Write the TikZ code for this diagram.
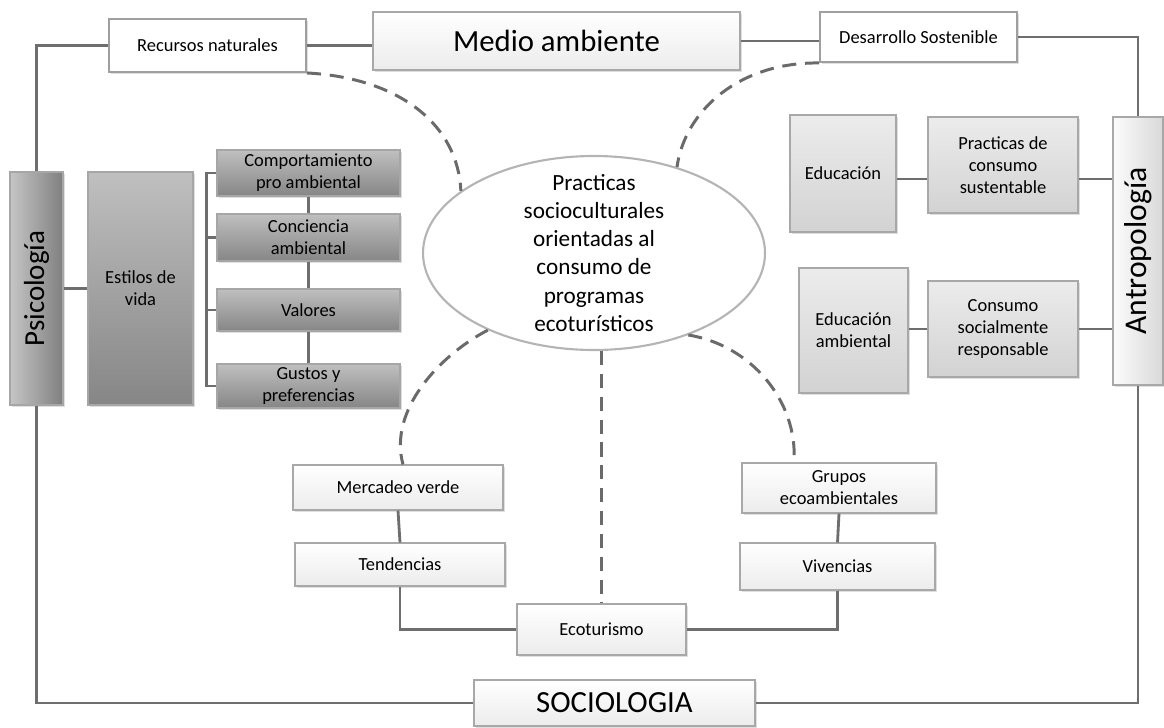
\documentclass[tikz,border=0pt]{standalone}
\usepackage{fontspec}
\setmainfont{Carlito}
\usepackage{xcolor}
\usepackage{tikz}
\usetikzlibrary{shapes.geometric,positioning,shadows}

\definecolor{linegray}{HTML}{6E6E6E}
\definecolor{dashgray}{HTML}{6A6A6A}
\definecolor{bordergray}{HTML}{A8A8A8}
\definecolor{ovalgray}{HTML}{B4B4B4}

\begin{document}
\begin{tikzpicture}[
    x=0.2mm, y=-0.2mm,
    box/.style={rectangle, draw=bordergray, line width=0.6pt, inner sep=0pt, align=center, font=\fontsize{10.5}{12.5}\selectfont, drop shadow={shadow xshift=0.9pt, shadow yshift=-0.9pt, opacity=0.25}},
    whitebox/.style={box, fill=white, draw=gray!75, line width=1.1pt},
    lightbox/.style={box, top color=white, bottom color=gray!15},
    greybox/.style={box, top color=gray!15, bottom color=gray!35},
    darkbox/.style={box, top color=gray!50, bottom color=gray!95, draw=gray!70},
    psicobox/.style={box, left color=gray!45, right color=gray!100, draw=gray!70, font=\fontsize{16.5}{19}\selectfont},
    antrobox/.style={box, left color=gray!3, right color=gray!30, font=\fontsize{18}{21}\selectfont},
    bigtext/.style={font=\fontsize{17.5}{20}\selectfont},
    frame/.style={draw=linegray, line width=1.6pt},
    link/.style={draw=linegray, line width=1.6pt},
    dashlink/.style={draw=dashgray, line width=1.7pt, dash pattern=on 8pt off 5pt}
]
\useasboundingbox (0,0) rectangle (1164,727);

\node[whitebox, minimum width=39.4mm, minimum height=10.6mm] (rec) at (207.5,45.5) {Recursos naturales};
\node[lightbox, bigtext, minimum width=73.4mm, minimum height=11.6mm] (medio) at (556.5,41) {Medio ambiente};
\node[whitebox, minimum width=39.4mm, minimum height=10mm] (desa) at (918.5,37) {Desarrollo Sostenible};

\node[psicobox, minimum width=10.6mm, minimum height=46.6mm] (psico) at (36.5,288.5) {\rotatebox{90}{Psicología}};
\node[darkbox, minimum width=21mm, minimum height=46.6mm] (estilos) at (140.5,288.5) {Estilos de\\vida};
\node[darkbox, minimum width=36.6mm, minimum height=9.2mm] (comp) at (308.5,173) {Comportamiento\\pro ambiental};
\node[darkbox, minimum width=36.6mm, minimum height=9.4mm] (conc) at (308.5,237.5) {Conciencia\\ambiental};
\node[darkbox, minimum width=36.6mm, minimum height=8.4mm] (valo) at (308.5,310) {Valores};
\node[darkbox, minimum width=36.6mm, minimum height=8.8mm] (gust) at (308.5,386) {Gustos y\\preferencias};

\node[ellipse, draw=ovalgray, line width=1.2pt, fill=white, inner sep=0pt,
      minimum width=68.4mm, minimum height=38.8mm,
      label={[align=center, font=\fontsize{13.2}{16}\selectfont]center:Practicas\\socioculturales\\orientadas al\\consumo de\\programas\\ecoturísticos}] (pr) at (594,253) {};

\node[greybox, minimum width=21.2mm, minimum height=23.4mm] (edu) at (843,173.5) {Educación};
\node[greybox, minimum width=30mm, minimum height=19.2mm] (prac) at (1003,165) {Practicas de\\consumo\\sustentable};
\node[greybox, minimum width=21.8mm, minimum height=25mm] (eduamb) at (853.5,330.5) {Educación\\ambiental};
\node[greybox, minimum width=30mm, minimum height=19.2mm] (cons) at (1003,329) {Consumo\\socialmente\\responsable};
\node[antrobox, minimum width=10mm, minimum height=53.6mm] (antro) at (1138,251) {\rotatebox{90}{Antropología}};

\node[lightbox, minimum width=42mm, minimum height=9mm] (merc) at (398,487.5) {Mercadeo verde};
\node[lightbox, minimum width=42mm, minimum height=8.6mm] (tend) at (400,564.5) {Tendencias};
\node[lightbox, minimum width=33.8mm, minimum height=10.2mm] (eco) at (601.5,629.5) {Ecoturismo};
\node[lightbox, minimum width=38.8mm, minimum height=10mm] (grup) at (839,488) {Grupos\\ecoambientales};
\node[lightbox, minimum width=39mm, minimum height=9.4mm] (vive) at (837.5,566.5) {Vivencias};
\node[lightbox, bigtext, minimum width=56.2mm, minimum height=9.2mm] (socio) at (614.5,703) {SOCIOLOGIA};

\draw[frame] (psico.north) |- (rec.west);
\draw[frame] (rec.east) -- (rec.east -| medio.west);
\draw[frame] (medio.east) -- (medio.east -| desa.west);
\draw[frame] (desa.east) -| (antro.north);
\draw[frame] (antro.south) |- (socio.east);
\draw[frame] (psico.south) |- (socio.west);

\draw[link] (psico.east) -- (estilos.west);
\draw[link] (comp.west) -- ++(-10,0) |- (gust.west);
\draw[link] (conc.west) -- ++(-10,0);
\draw[link] (valo.west) -- ++(-10,0);
\draw[link] (comp.south) -- (conc.north);
\draw[link] (conc.south) -- (valo.north);
\draw[link] (valo.south) -- (gust.north);

\draw[link] (edu.east |- 0,179) -- (prac.west |- 0,179);
\draw[link] (prac.east |- 0,179) -- (antro.west |- 0,179);
\draw[link] (eduamb.east |- cons.west) -- (cons.west);
\draw[link] (cons.east) -- (cons.east -| antro.west);

\draw[link] (merc.south) -- (tend.north);
\draw[link] (tend.south) |- (eco.west);
\draw[link] (grup.south) -- (vive.north);
\draw[link] (vive.south) |- (eco.east);

\draw[dashlink] (rec.south east) .. controls (400,78) and (458,125) .. (pr.155);
\draw[dashlink] (desa.south west) .. controls (740,62) and (685,110) .. (pr.46);
\draw[dashlink] (pr.216) .. controls (440,355) and (388,410) .. (403,0 |- merc.north);
\draw[dashlink] (pr.-41) .. controls (750,345) and (798,400) .. (794,0 |- grup.north);
\draw[dashlink] (eco.north |- pr.south) -- (eco.north);
\end{tikzpicture}
\end{document}
